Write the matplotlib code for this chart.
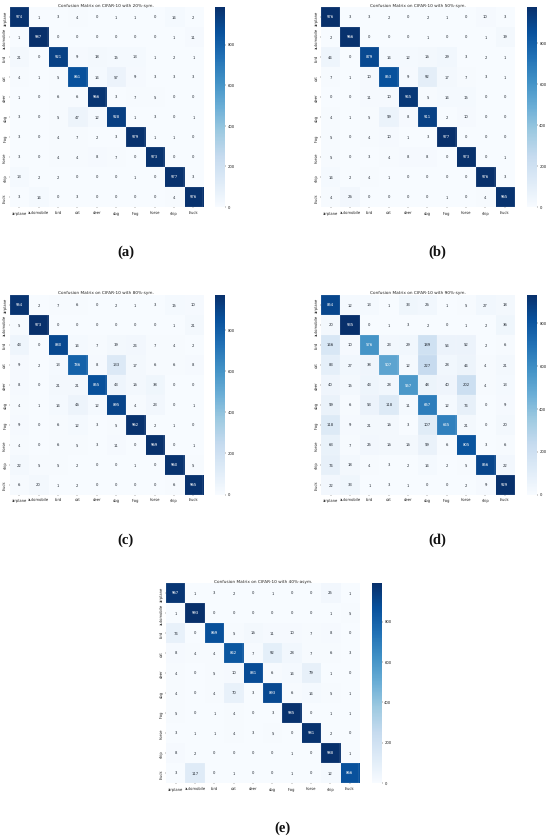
import matplotlib
matplotlib.use("Agg")
import matplotlib.pyplot as plt
import numpy as np

plt.rcParams["text.hinting"] = "no_hinting"

W, H = 550, 837

classes = ["airplane", "automobile", "bird", "cat", "deer", "dog", "frog", "horse", "ship", "truck"]

cm_20_sym = [
    [974, 1, 3, 4, 0, 1, 1, 0, 14, 2],
    [1, 987, 0, 0, 0, 0, 0, 0, 1, 11],
    [21, 0, 921, 9, 18, 15, 13, 1, 2, 1],
    [4, 1, 5, 861, 14, 57, 9, 3, 3, 3],
    [1, 0, 6, 6, 966, 3, 7, 5, 0, 0],
    [3, 0, 5, 47, 12, 928, 1, 3, 0, 1],
    [3, 0, 4, 7, 2, 3, 979, 1, 1, 0],
    [3, 0, 4, 4, 8, 7, 0, 973, 0, 0],
    [13, 2, 2, 0, 0, 0, 1, 0, 977, 3],
    [3, 14, 0, 3, 0, 0, 0, 0, 4, 976],
]
cm_50_sym = [
    [976, 3, 3, 2, 0, 2, 1, 0, 10, 3],
    [2, 966, 0, 0, 0, 1, 0, 0, 1, 19],
    [44, 0, 879, 14, 12, 16, 29, 3, 2, 1],
    [7, 1, 10, 853, 9, 92, 17, 7, 3, 1],
    [0, 0, 11, 10, 945, 5, 14, 15, 0, 0],
    [4, 1, 5, 59, 8, 911, 2, 10, 0, 0],
    [5, 0, 4, 10, 1, 3, 977, 0, 0, 0],
    [5, 0, 3, 4, 8, 8, 0, 973, 0, 1],
    [14, 2, 4, 1, 0, 0, 0, 0, 976, 3],
    [4, 26, 0, 0, 0, 0, 1, 0, 4, 965],
]
cm_80_sym = [
    [954, 2, 7, 6, 0, 2, 1, 3, 15, 10],
    [5, 973, 0, 0, 0, 0, 0, 0, 1, 21],
    [43, 0, 880, 14, 7, 19, 24, 7, 4, 2],
    [9, 2, 13, 786, 8, 133, 17, 6, 6, 8],
    [8, 0, 21, 21, 855, 43, 16, 38, 0, 0],
    [4, 1, 14, 46, 12, 895, 4, 23, 0, 1],
    [9, 0, 6, 12, 3, 5, 962, 2, 1, 0],
    [4, 0, 6, 5, 3, 11, 0, 969, 0, 1],
    [22, 5, 5, 2, 0, 0, 1, 0, 960, 5],
    [6, 20, 1, 2, 0, 0, 0, 0, 6, 965],
]
cm_90_sym = [
    [854, 12, 13, 1, 33, 26, 1, 5, 27, 18],
    [20, 935, 0, 1, 3, 2, 0, 1, 2, 36],
    [146, 10, 576, 23, 29, 189, 54, 52, 2, 6],
    [83, 27, 38, 507, 12, 227, 28, 44, 4, 21],
    [40, 15, 43, 28, 557, 48, 40, 202, 4, 13],
    [59, 6, 53, 118, 11, 657, 12, 74, 0, 9],
    [118, 9, 21, 16, 3, 107, 645, 21, 0, 20],
    [63, 7, 25, 16, 16, 59, 6, 805, 3, 6],
    [74, 18, 4, 3, 2, 14, 2, 5, 856, 22],
    [22, 33, 1, 3, 1, 0, 0, 2, 9, 929],
]
cm_40_asym = [
    [967, 1, 3, 2, 0, 1, 0, 0, 25, 1],
    [1, 993, 0, 0, 0, 0, 0, 0, 1, 5],
    [74, 0, 869, 5, 16, 11, 10, 7, 8, 0],
    [8, 4, 4, 842, 7, 92, 28, 7, 6, 3],
    [4, 0, 5, 10, 881, 6, 14, 79, 1, 0],
    [4, 0, 4, 70, 3, 893, 6, 14, 5, 1],
    [5, 0, 1, 4, 0, 3, 985, 0, 1, 1],
    [3, 1, 1, 4, 3, 5, 0, 981, 2, 0],
    [8, 2, 0, 0, 0, 0, 1, 0, 988, 1],
    [3, 117, 0, 1, 0, 0, 1, 0, 12, 866],
]

cbar_ticks = [0, 200, 400, 600, 800]


def px_axes(x0, y0, x1, y1):
    return plt.gcf().add_axes([x0 / W, 1 - y1 / H, (x1 - x0) / W, (y1 - y0) / H])


def draw_cm(cm, title, caption, x0, y0, cap_y):
    cm = np.array(cm)
    ax = px_axes(x0, y0, x0 + 193.5, y0 + 200)
    mesh = ax.imshow(cm, cmap="Blues", vmin=0, vmax=cm.max(), aspect="auto", interpolation="nearest")
    # thin white gaps between cells
    ax.set_xticks(np.arange(11) - .5, minor=True)
    ax.set_yticks(np.arange(11) - .5, minor=True)
    ax.grid(which="minor", color="white", linewidth=0.2, alpha=.5)
    ax.tick_params(which="minor", length=0)
    for r in range(10):
        for c in range(10):
            col = "white" if cm[r, c] > cm.max() * 0.5 else "#262d36"
            ax.text(c, r, str(cm[r, c]), ha="center", va="center", fontsize=2.7, color=col)
    ax.set_xticks(np.arange(10), classes, fontsize=2.7, color="#222222")
    ax.set_yticks(np.arange(10), classes, fontsize=2.7, color="#222222", rotation=90, va="center")
    ax.tick_params(which="major", length=1, width=0.3, pad=1, color="#444444")
    for s in ax.spines.values():
        s.set_visible(False)
    ax.set_title(title, fontsize=3.1, pad=1.6, color="#222222")

    cax = px_axes(x0 + 205.5, y0, x0 + 215.5, y0 + 200)
    cb = plt.gcf().colorbar(mesh, cax=cax)
    cb.set_ticks(cbar_ticks)
    cb.ax.tick_params(labelsize=2.7, length=1, width=0.3, pad=1, colors="#222222")
    cb.outline.set_visible(False)

    plt.gcf().text((x0 + 116) / W, 1 - cap_y / H, caption, family="Liberation Serif",
                   fontsize=10.5, fontweight="bold", ha="center", va="center", color="#111111")


fig = plt.figure(figsize=(W / 100, H / 100), dpi=100, facecolor="white")
draw_cm(cm_20_sym, "Confusion Matrix on CIFAR-10 with 20%-sym.", "(a)", 9.5, 8, 252)
draw_cm(cm_50_sym, "Confusion Matrix on CIFAR-10 with 50%-sym.", "(b)", 321, 8, 252)
draw_cm(cm_80_sym, "Confusion Matrix on CIFAR-10 with 80%-sym.", "(c)", 9.5, 295.5, 540)
draw_cm(cm_90_sym, "Confusion Matrix on CIFAR-10 with 90%-sym.", "(d)", 321, 295.5, 540)
draw_cm(cm_40_asym, "Confusion Matrix on CIFAR-10 with 40%-asym.", "(e)", 166, 584, 828)

fig.savefig("out.png", dpi=100)
plt.close(fig)
